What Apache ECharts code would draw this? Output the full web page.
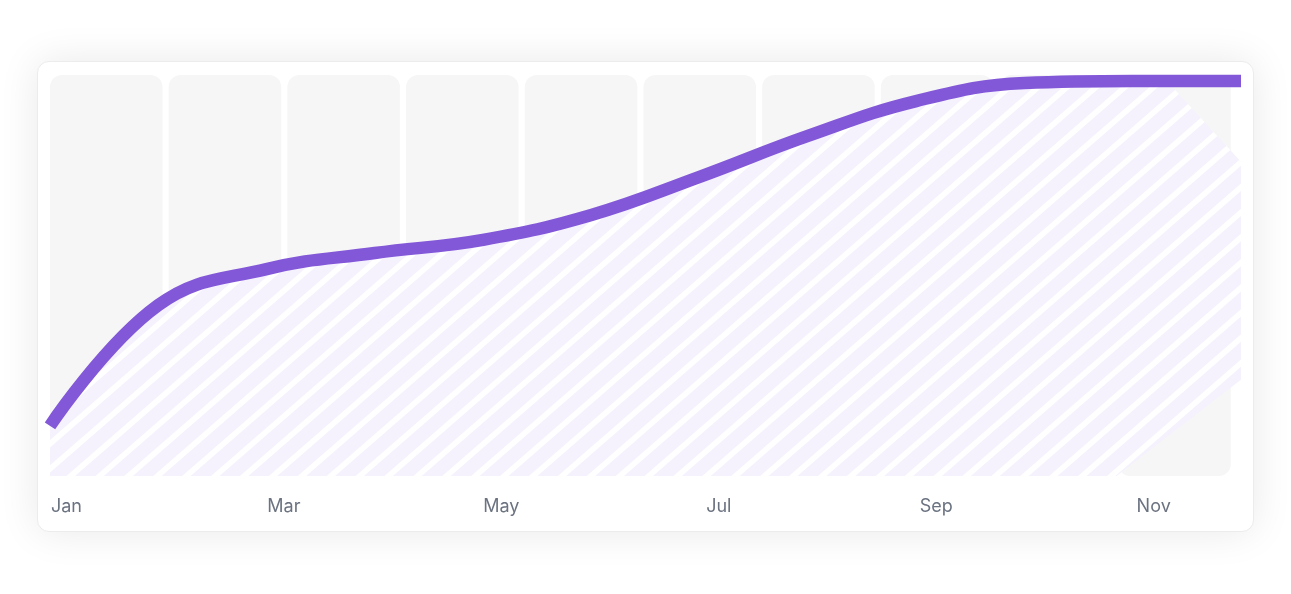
<!DOCTYPE html>
<html>
<head>
<meta charset="utf-8">
<script src="https://cdn.jsdelivr.net/npm/echarts@6/dist/echarts.min.js"></script>
<style>
  html, body { margin: 0; padding: 0; background: #ffffff; width: 1291px; height: 594px; overflow: hidden; }
  #card {
    position: absolute; left: 37px; top: 61px; width: 1217px; height: 471px;
    box-sizing: border-box; background: #ffffff; border: 1px solid #ececec; border-radius: 12px;
    box-shadow: 0 0 40px rgba(0,0,0,0.09);
  }
  #chart { position: absolute; left: 0; top: 0; width: 1291px; height: 594px; }
</style>
</head>
<body>
<div id="card"></div>
<div id="chart"></div>
<script>
// ---- data ----
const months = ['Jan', 'Feb', 'Mar', 'Apr', 'May', 'Jun', 'Jul', 'Aug', 'Sep', 'Oct', 'Nov', 'Dec'];
const lineValues = [12.5, 42.6, 51.6, 55.6, 58.9, 65.1, 74.6, 84.8, 93.5, 98.0, 98.5, 98.5];
const barSlots = ['1', '2', '3', '4', '5', '6', '7', '8', '9', '10'];
const barValues = [1, 1, 1, 1, 1, 1, 1, 1, 1, 1];

// ---- stripe texture for the area ----
function makeTexture(w, h) {
  const c = document.createElement('canvas');
  c.width = w; c.height = h;
  const ctx = c.getContext('2d');
  ctx.beginPath();
  ctx.moveTo(0, 0);
  ctx.lineTo(1092.6, 0);
  ctx.lineTo(1357.9, 289.2);
  ctx.lineTo(964.2, h);
  ctx.lineTo(0, h);
  ctx.closePath();
  ctx.clip();
  ctx.fillStyle = '#f5f2fd';
  ctx.fillRect(0, 0, w, h);
  ctx.strokeStyle = '#ffffff';
  ctx.lineWidth = 5.6;
  const t = Math.tan(41 * Math.PI / 180);
  const P = 28.9 * t;
  const u0 = 476.7 + t * 619;
  for (let k = -80; k < 80; k++) {
    const u = u0 + k * P;
    ctx.beginPath();
    ctx.moveTo(u / t, 0);
    ctx.lineTo((u - h) / t, h);
    ctx.stroke();
  }
  return c;
}

const chart = echarts.init(document.getElementById('chart'), null, { renderer: 'canvas' });
const texture = makeTexture(1291, 594);

const option = {
  animation: false,
  backgroundColor: 'transparent',
  grid: [
    { left: 50, right: 50, top: 75, bottom: 118 },
    { left: 46.9, right: 57.1, top: 75, bottom: 118 },
    { left: 66.5, right: 28.6, top: 75, bottom: 118 }
  ],
  xAxis: [
    { type: 'category', gridIndex: 0, data: months, boundaryGap: false, show: false },
    { type: 'category', gridIndex: 1, data: barSlots, show: false },
    {
      type: 'category', gridIndex: 2, data: months, boundaryGap: false,
      axisLine: { show: false }, axisTick: { show: false }, splitLine: { show: false },
      axisLabel: {
        interval: 1, margin: 22, color: '#6b7280', fontSize: 18,
        fontFamily: 'Inter, "Noto Sans", sans-serif'
      }
    }
  ],
  yAxis: [
    { type: 'value', gridIndex: 0, min: 0, max: 100, show: false },
    { type: 'value', gridIndex: 1, min: 0, max: 1, show: false },
    { type: 'value', gridIndex: 2, min: 0, max: 1, show: false }
  ],
  series: [
    {
      type: 'bar', xAxisIndex: 1, yAxisIndex: 1, data: barValues,
      barWidth: 112.5, z: 1, silent: true,
      itemStyle: { color: '#f6f6f6', borderRadius: 12 }
    },
    {
      type: 'line', xAxisIndex: 0, yAxisIndex: 0, data: lineValues,
      smooth: 0.42, symbol: 'none', z: 3, clip: true,
      lineStyle: { color: '#8257d8', width: 12.5, cap: 'butt' },
      areaStyle: { color: { image: texture, repeat: 'no-repeat' }, opacity: 1 }
    }
  ]
};
chart.setOption(option);
</script>
</body>
</html>
